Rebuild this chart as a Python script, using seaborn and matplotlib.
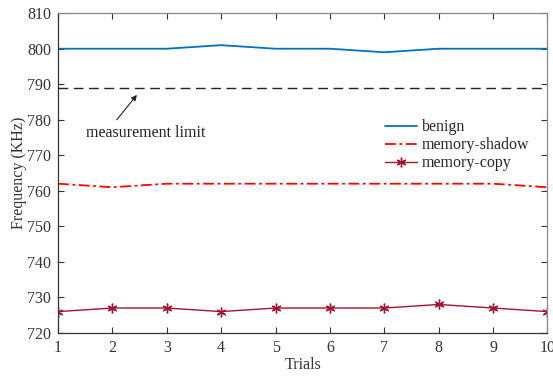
import pandas as pd
import seaborn as sns
import matplotlib.pyplot as plt

trials = [1, 2, 3, 4, 5, 6, 7, 8, 9, 10]
benign = [800, 800, 800, 801, 800, 800, 799, 800, 800, 800]
memory_shadow = [762, 761, 762, 762, 762, 762, 762, 762, 762, 761]
memory_copy = [726, 727, 727, 726, 727, 727, 727, 728, 727, 726]
limit = 789

sns.set_style("ticks")
plt.rcParams['font.family'] = ['Liberation Serif', 'DejaVu Serif']
plt.rcParams['font.size'] = 11.5

fig, ax = plt.subplots(figsize=(5.53, 3.77), dpi=100)

sns.lineplot(x=trials, y=benign, ax=ax, color="#0072BD", lw=1.3, label="benign")
sns.lineplot(x=trials, y=memory_shadow, ax=ax, color="#FF0000", lw=1.3,
             label="memory-shadow")
ax.lines[-1].set_dashes([6, 2, 1.5, 2])
sns.lineplot(x=trials, y=memory_copy, ax=ax, color="#A2142F", lw=1.0,
             marker=(6, 2, 0), markersize=7, markeredgewidth=1.0,
             markeredgecolor="#A2142F", label="memory-copy")
ax.axhline(limit, color="#222222", lw=1.0, ls=(0, (7, 4)))

# arrow and label for the measurement limit
ax.annotate("", xy=(2.45, 787.0), xytext=(2.08, 780.0),
            arrowprops=dict(arrowstyle="-|>", color="#222222", lw=0.8,
                            mutation_scale=8, shrinkA=0, shrinkB=0))
ax.text(2.62, 776.3, "measurement limit", ha="center", va="center", color="#222222")

ax.set_xlim(1, 10)
ax.set_ylim(720, 810)
ax.set_xticks(trials)
ax.set_yticks(range(720, 811, 10))
ax.set_xlabel("Trials", color="#333333", labelpad=1)
ax.set_ylabel("Frequency (KHz)", color="#333333", labelpad=0)
ax.tick_params(direction="in", top=True, right=True, length=4, width=0.8,
               colors="#333333", labelsize=11.5, pad=5)
for s in ax.spines.values():
    s.set_color("#333333")
    s.set_linewidth(0.9)
ax.spines["right"].set_color("#888888")
ax.spines["top"].set_color("#888888")

ax.legend(loc="upper left", bbox_to_anchor=(0.668, 0.668), frameon=False,
          handlelength=2.0, handletextpad=0.3, labelspacing=0.12, fontsize=11.5,
          borderaxespad=0, borderpad=0)

fig.subplots_adjust(left=0.105, right=0.99, top=0.965, bottom=0.117)
plt.savefig("out.png")
plt.close()
